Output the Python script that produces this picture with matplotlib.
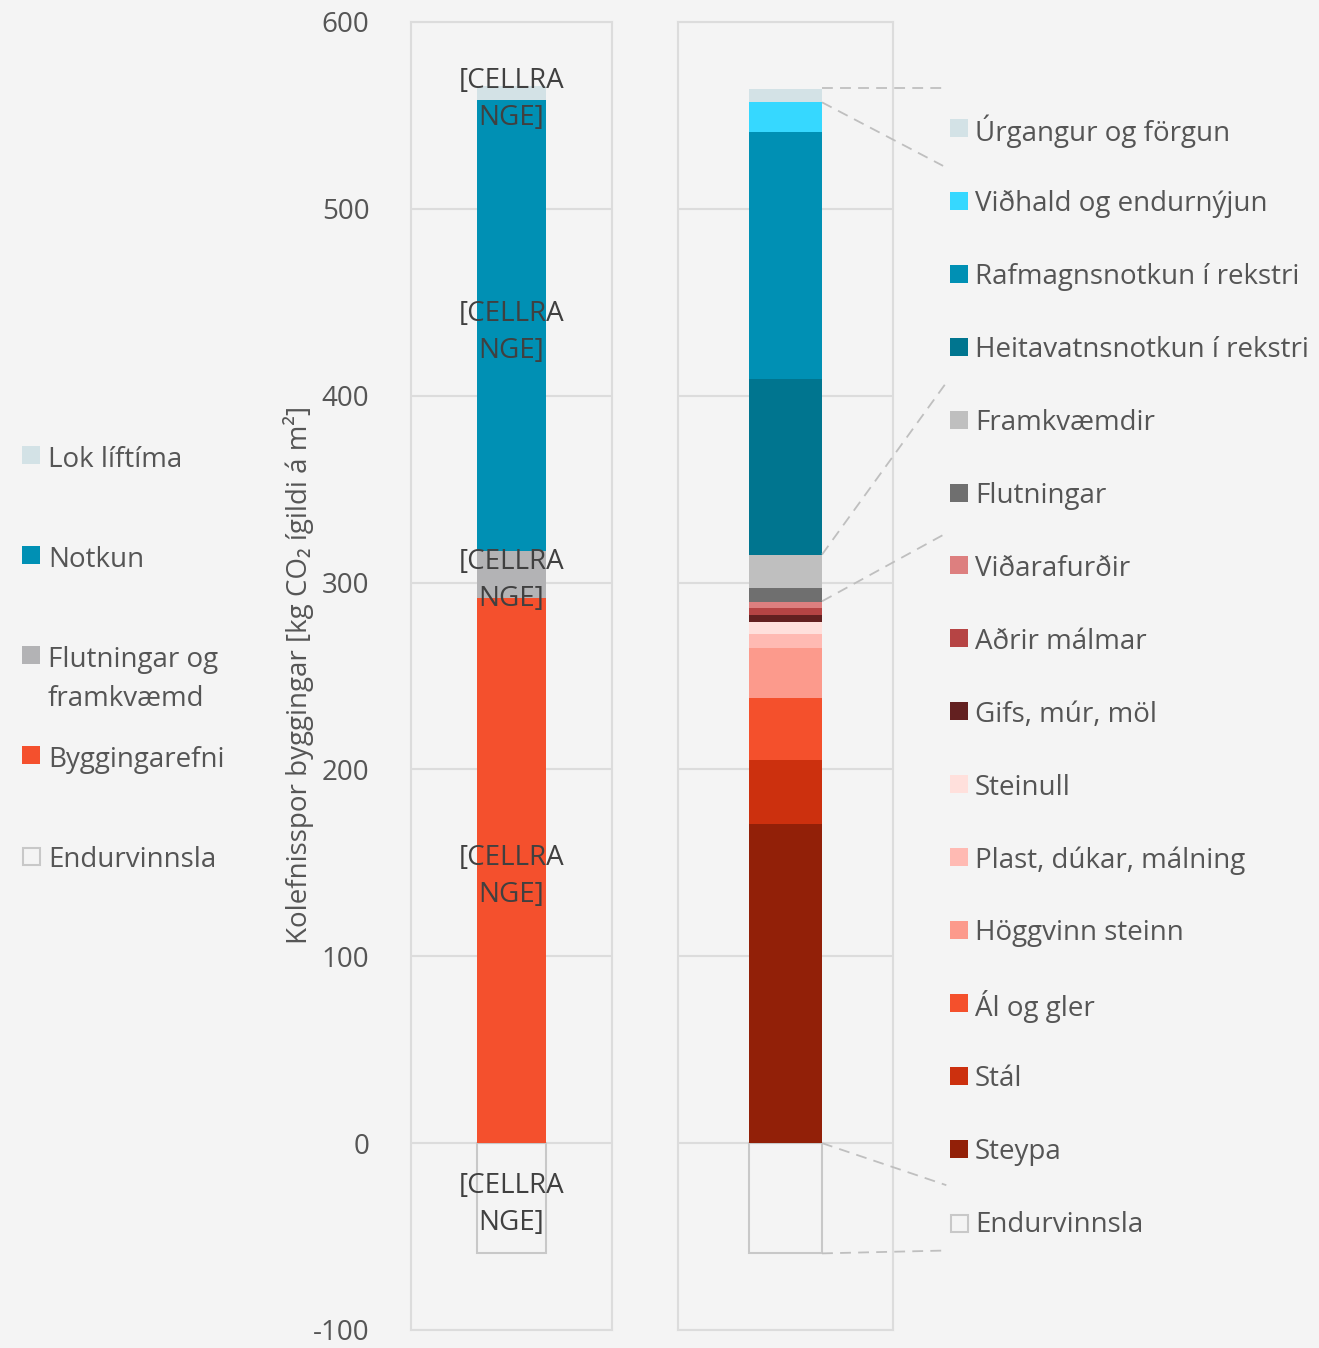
import numpy as np
import matplotlib.pyplot as plt
from matplotlib.patches import Rectangle

plt.rcParams['font.family'] = ['Open Sans', 'DejaVu Sans']
plt.rcParams['axes.unicode_minus'] = False

# ---- data (bottom to top, negative part first) ----
left_labels = ['Endurvinnsla', 'Byggingarefni', 'Flutningar og\nframkvæmd', 'Notkun', 'Lok líftíma']
left_values = [-59, 292, 25, 241, 8]
left_colors = ['none', '#f4502d', '#b3b3b5', '#0090b4', '#d3e2e6']

right_labels = ['Endurvinnsla', 'Steypa', 'Stál', 'Ál og gler', 'Höggvinn steinn',
                'Plast, dúkar, málning', 'Steinull', 'Gifs, múr, möl', 'Aðrir málmar',
                'Viðarafurðir', 'Flutningar', 'Framkvæmdir', 'Heitavatnsnotkun í rekstri',
                'Rafmagnsnotkun í rekstri', 'Viðhald og endurnýjun', 'Úrgangur og förgun']
right_values = [-59, 171, 34, 33, 27, 7.5, 6.4, 3.7, 3.8, 3.2, 7.5, 17.6, 94.2, 132.2, 16, 7]
right_colors = ['none', '#922008', '#cc300e', '#f4502c', '#fc9a8c', '#ffbab3', '#ffe0dc',
                '#632020', '#b64444', '#dd7f7f', '#6f6f6f', '#bfbfbf', '#00758f',
                '#0090b4', '#36d8ff', '#d3e2e6']

yticks = [-100, 0, 100, 200, 300, 400, 500, 600]

BG = '#f4f4f4'
GRID = '#dcdcdc'
TXT = '#555555'
W, H = 1319, 1348

fig = plt.figure(figsize=(W / 100, H / 100), dpi=100, facecolor=BG)


def fx(px):
    return px / W


def fy(py):
    return 1 - py / H


ax1 = fig.add_axes([fx(411), fy(1330), fx(612 - 411), (1330 - 22) / H])
ax2 = fig.add_axes([fx(678), fy(1330), fx(893 - 678), (1330 - 22) / H])

bw = 0.34


def stack(ax, values, colors):
    pos, neg = 0, 0
    spans = []
    for v, c in zip(values, colors):
        if v < 0:
            b = neg
            neg += v
        else:
            b = pos
            pos += v
        if c == 'none':
            ax.bar(0, v, bw, bottom=b, facecolor='none', edgecolor='#c8c8c8', linewidth=1.5, zorder=3)
        else:
            ax.bar(0, v, bw, bottom=b, color=c, linewidth=0, zorder=3)
        spans.append((b, b + v))
    return spans


for ax in (ax1, ax2):
    ax.set_facecolor(BG)
    ax.set_xlim(-0.5, 0.5)
    ax.set_ylim(-100, 600)
    ax.set_yticks(yticks)
    ax.set_xticks([])
    ax.grid(axis='y', color=GRID, linewidth=1.5, zorder=0)
    for s in ax.spines.values():
        s.set_color(GRID)
        s.set_linewidth(1.5)
    ax.tick_params(axis='y', length=0, pad=30, labelsize=20, labelcolor=TXT)

ax2.set_yticklabels([])

spans_l = stack(ax1, left_values, left_colors)
spans_r = stack(ax2, right_values, right_colors)

# data labels (placeholder text from the source)
for b, t in spans_l:
    ax1.text(0, (b + t) / 2 - 3.5, '[CELLRA\nNGE]', ha='center', va='center', fontsize=20,
             color='#404040', linespacing=1.42, zorder=5)

fig.text(fx(298), fy(675), 'Kolefnisspor byggingar [kg CO₂ ígildi á m²]', rotation=90,
         ha='center', va='center', fontsize=20, color=TXT)

# left legend
left_leg_y = [858, 758, 658, 558, 458]
for lab, c, py in zip(left_labels, left_colors, left_leg_y):
    if c == 'none':
        fig.patches.append(Rectangle((fx(23), fy(py + 7)), fx(17), 17 / H, transform=fig.transFigure,
                                     facecolor='none', edgecolor='#c8c8c8', linewidth=1.5))
    else:
        fig.patches.append(Rectangle((fx(22), fy(py + 6)), fx(18), 18 / H, transform=fig.transFigure,
                                     facecolor=c, edgecolor='none'))
    fig.text(fx(48), fy(py - 12), lab, ha='left', va='top', fontsize=20, color=TXT, linespacing=1.5)

# right legend
for i, (lab, c) in enumerate(zip(right_labels[::-1], right_colors[::-1])):
    py = 128 + i * 72.9
    if c == 'none':
        fig.patches.append(Rectangle((fx(951), fy(py + 10)), fx(17), 17 / H, transform=fig.transFigure,
                                     facecolor='none', edgecolor='#c8c8c8', linewidth=1.5))
    else:
        fig.patches.append(Rectangle((fx(950), fy(py + 9)), fx(18), 18 / H, transform=fig.transFigure,
                                     facecolor=c, edgecolor='none'))
    fig.text(fx(975), fy(py), lab, ha='left', va='center_baseline', fontsize=20, color=TXT)

# dashed connector lines from the right bar to the legend
edge = bw / 2
connectors = [((edge, 564.5), (0.733, 564.5)),
              ((edge, 557), (0.733, 523)),
              ((edge, 315), (0.748, 407)),
              ((edge, 290), (0.757, 327)),
              ((edge, 0), (0.748, -22.5)),
              ((edge, -59), (0.733, -57.5))]
for (x0, y0), (x1, y1) in connectors:
    ax2.plot([x0, x1], [y0, y1], color='#bfbfbf', linewidth=1.3, linestyle=(0, (6, 4)),
             clip_on=False, zorder=4)

fig.savefig('out.png', dpi=100, facecolor=BG)
